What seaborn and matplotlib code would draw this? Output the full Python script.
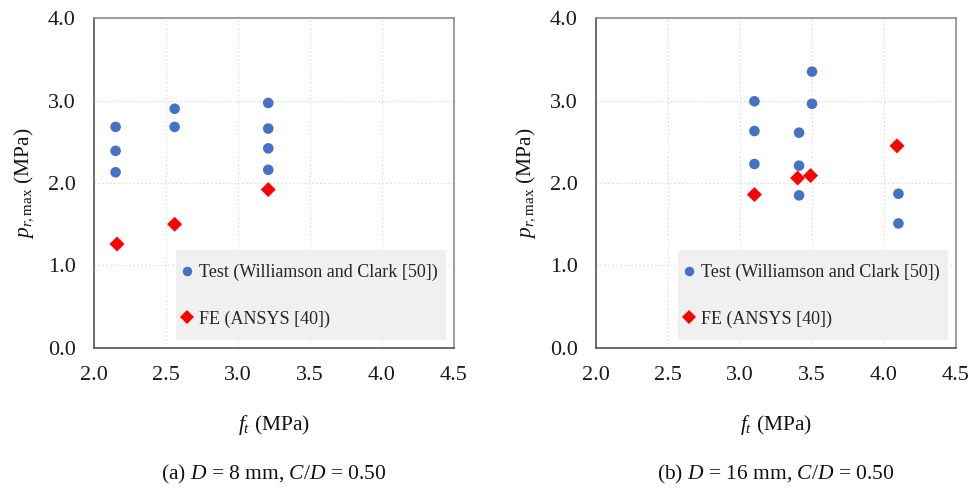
import matplotlib
matplotlib.use("Agg")
import matplotlib.pyplot as plt
from matplotlib.patches import Rectangle
import seaborn as sns
import pandas as pd

# Panel (a): D = 8 mm
a_test_x = [2.15, 2.15, 2.15, 2.56, 2.56, 3.21, 3.21, 3.21, 3.21]
a_test_y = [2.68, 2.39, 2.13, 2.90, 2.68, 2.97, 2.66, 2.42, 2.16]
a_fe_x = [2.16, 2.56, 3.21]
a_fe_y = [1.26, 1.50, 1.92]

# Panel (b): D = 16 mm
b_test_x = [3.10, 3.10, 3.10, 3.41, 3.41, 3.41, 3.50, 3.50, 4.10, 4.10]
b_test_y = [2.99, 2.63, 2.23, 2.61, 2.21, 1.85, 3.35, 2.96, 1.87, 1.51]
b_fe_x = [3.10, 3.40, 3.49, 4.09]
b_fe_y = [1.86, 2.06, 2.09, 2.45]

series_labels = ["Test (Williamson and Clark [50])", "FE (ANSYS [40])"]
captions = ["(a) $D$ = 8 mm, $C/D$ = 0.50", "(b) $D$ = 16 mm, $C/D$ = 0.50"]
x_ticks = [2.0, 2.5, 3.0, 3.5, 4.0, 4.5]
y_ticks = [0.0, 1.0, 2.0, 3.0, 4.0]

sns.set_theme(style="white")
plt.rcParams["font.family"] = ["Liberation Serif", "DejaVu Serif"]
plt.rcParams["mathtext.fontset"] = "custom"
plt.rcParams["mathtext.rm"] = "Liberation Serif"
plt.rcParams["mathtext.it"] = "Liberation Serif:italic"
plt.rcParams["mathtext.bf"] = "Liberation Serif:bold"

fig = plt.figure(figsize=(9.71, 4.88), dpi=100)
ax_a = fig.add_axes([0.0968, 0.2869, 0.3708, 0.6762])
ax_b = fig.add_axes([0.6138, 0.2869, 0.3708, 0.6762])

panels = [
    (ax_a, a_test_x, a_test_y, a_fe_x, a_fe_y, captions[0]),
    (ax_b, b_test_x, b_test_y, b_fe_x, b_fe_y, captions[1]),
]

for ax, tx, ty, fx, fy, cap in panels:
    df = pd.DataFrame({
        "x": tx + fx,
        "y": ty + fy,
        "s": [series_labels[0]] * len(tx) + [series_labels[1]] * len(fx),
    })
    sns.scatterplot(data=df, x="x", y="y", hue="s", style="s",
                    palette={series_labels[0]: "#4472C4", series_labels[1]: "#FF0000"},
                    markers={series_labels[0]: "o", series_labels[1]: "D"},
                    s=58, linewidth=0, ax=ax, zorder=3)
    ax.set_xlim(2.0, 4.5)
    ax.set_ylim(0.0, 4.0)
    ax.set_xticks(x_ticks)
    ax.set_yticks(y_ticks)
    ax.set_xticklabels([f"{v:.1f}" for v in x_ticks])
    ax.set_yticklabels([f"{v:.1f}" for v in y_ticks])
    ax.tick_params(axis="both", labelsize=16, labelcolor="#1a1a1a", length=5,
                   width=1.0, direction="out", pad=8, color="#666666")
    ax.grid(True, color="#dcdcdc", linestyle=(0, (1.5, 2)), linewidth=0.8)
    ax.set_axisbelow(True)
    for side in ["left", "bottom"]:
        ax.spines[side].set_color("#555555")
        ax.spines[side].set_linewidth(1.2)
    for side in ["top", "right"]:
        ax.spines[side].set_color("#8c8c8c")
        ax.spines[side].set_linewidth(1.2)
    ax.set_xlabel("$f_t$ (MPa)", fontsize=15.5, labelpad=20, color="#111111")
    ax.set_ylabel("$p_{r,\\mathrm{max}}$ (MPa)", fontsize=15.5, labelpad=9, color="#111111")
    # legend background box
    ax.add_patch(Rectangle((0.228, 0.024), 0.75, 0.273, transform=ax.transAxes,
                           facecolor="#f0f0f0", edgecolor="none", zorder=4))
    handles, labels = ax.get_legend_handles_labels()
    leg = ax.legend(handles, labels, loc="center left",
                    bbox_to_anchor=(0.228, 0.158), borderaxespad=0,
                    fontsize=13, frameon=False,
                    labelspacing=1.6, borderpad=0.3, handletextpad=0.35,
                    handlelength=0.6, markerscale=0.9)
    leg.set_zorder(5)
    bb = ax.get_position()
    fig.text((bb.x0 + bb.x1) / 2, 0.028, cap, ha="center", va="center",
             fontsize=15.5, color="#111111")

fig.savefig("out.png", dpi=100)
